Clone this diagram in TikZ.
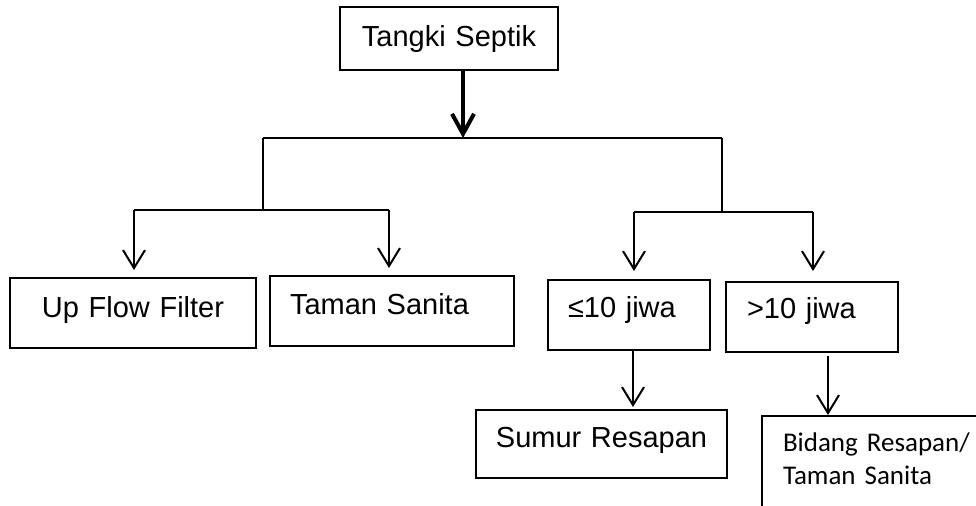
\documentclass[tikz,border=0pt]{standalone}
\usepackage{fontspec}
\setmainfont{Liberation Sans}
\newfontfamily\bidangfont{Carlito}
\usetikzlibrary{arrows.meta}

\begin{document}
\begin{tikzpicture}[x=0.5pt,y=-0.5pt,
    box/.style={
% The shape:
rectangle, anchor=north west,
% The size:
inner ysep=0pt, outer sep=0pt,
% The border:
line width=0.7pt, draw,
% The text:
font=\fontsize{14.5pt}{17pt}\selectfont,
},
    link/.style={
line width=1pt,
},
    arrow/.style={
line width=1pt,
-{Straight Barb[length=9pt,width=11pt]},
},
    heavy arrow/.style={
line width=2pt,
-{Straight Barb[length=10pt,width=11pt]},
},
]
  \clip (0,0) rectangle (976,506);

  \node[box,inner xsep=5pt,text width=99pt,align=center,text height=20pt,text depth=11.5pt]  (tank) at (340,7) {Tangki Septik};

  \node[box,inner xsep=5pt,text width=113pt,align=center,text height=20pt,text depth=15pt]   (upflow) at (10,278) {Up Flow Filter};
  \node[box,inner xsep=10pt,text width=102pt,align=left,text height=19.5pt,text depth=15.5pt] (taman) at (270,276) {Taman Sanita};
  \node[box,inner xsep=10pt,text width=61pt,align=left,text height=19pt,text depth=16pt]     (lesser) at (548,280) {≤10 jiwa};
  \node[box,inner xsep=10.5pt,text width=65pt,align=left,text height=18.5pt,text depth=16.5pt] (greater) at (726,282) {>10 jiwa};

  \node[box,inner xsep=5pt,text width=115.5pt,align=center,text height=19pt,text depth=15pt] (sumur) at (476,410) {Sumur Resapan};
  \node[box,inner xsep=10.5pt,text width=100pt,align=left,text height=18pt,text depth=44pt,
        font=\bidangfont\fontsize{13.5pt}{16.5pt}\selectfont]                                (bidang) at (762,416) {Bidang Resapan/\\Taman Sanita};

  \coordinate (split) at (463,138);
  \coordinate (left fork) at (263,138);
  \coordinate (right fork) at (722,138);
  \coordinate (left split) at (263,210);
  \coordinate (right split) at (722,212);
  \coordinate (upflow top) at (134,210);
  \coordinate (taman top) at (389,210);
  \coordinate (lesser top) at (634,212);
  \coordinate (greater top) at (813,212);

  \draw[heavy arrow] (tank.south -| split) -- (split);
  \draw[link] (left fork) -- (right fork);
  \draw[link] (left fork) -- (left split);
  \draw[link] (right fork) -- (right split);
  \draw[link] (upflow top) -- (taman top);
  \draw[link] (lesser top) -- (greater top);

  \draw[arrow,shorten >=4pt]   (upflow top)  -- (upflow top |- upflow.north);
  \draw[arrow,shorten >=4pt]   (taman top)   -- (taman top |- taman.north);
  \draw[arrow,shorten >=4.5pt] (lesser top)  -- (lesser top |- lesser.north);
  \draw[arrow,shorten >=5.5pt] (greater top) -- (greater top |- greater.north);

  \coordinate (sumur top) at (633,410);
  \coordinate (bidang top) at (828,416);
  \draw[arrow,shorten >=1.5pt] (lesser.south -| sumur top) -- (sumur top);
  \draw[arrow,shorten <=2pt,shorten >=0.5pt] (greater.south -| bidang top) -- (bidang top);
\end{tikzpicture}
\end{document}
